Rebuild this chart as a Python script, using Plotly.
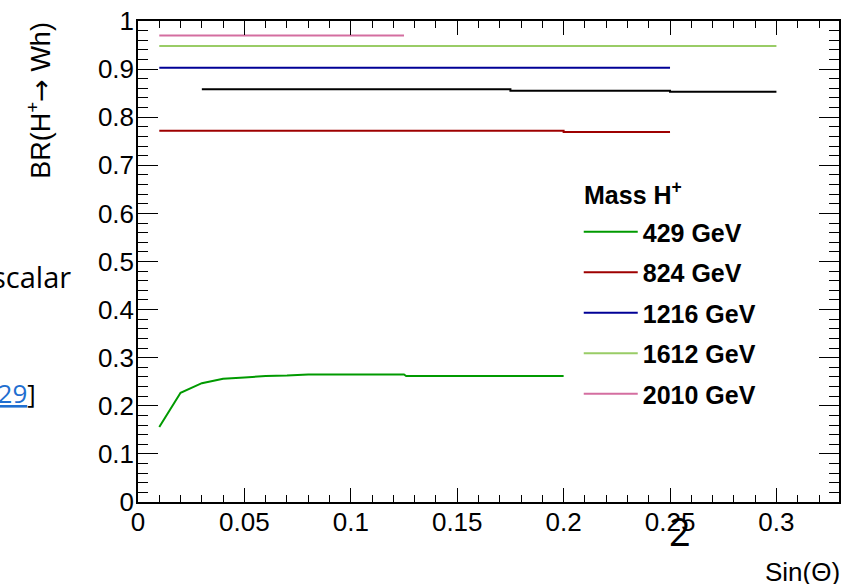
import plotly.graph_objects as go

# BR(H+ -> Wh) versus sin(theta) for several charged Higgs masses
sin_429 = [0.01, 0.02, 0.03, 0.04, 0.05, 0.06, 0.07, 0.08, 0.10, 0.125, 0.126, 0.15, 0.175, 0.20]
br_429 = [0.156, 0.227, 0.247, 0.256, 0.259, 0.262, 0.263, 0.265, 0.265, 0.265, 0.262, 0.262, 0.262, 0.262]

sin_824 = [0.01, 0.05, 0.10, 0.15, 0.20, 0.20, 0.25]
br_824 = [0.772, 0.772, 0.772, 0.772, 0.772, 0.769, 0.769]

sin_1216 = [0.01, 0.05, 0.10, 0.15, 0.20, 0.25]
br_1216 = [0.903, 0.903, 0.903, 0.903, 0.903, 0.903]

sin_1612 = [0.01, 0.05, 0.10, 0.15, 0.20, 0.25, 0.30]
br_1612 = [0.948, 0.948, 0.948, 0.948, 0.948, 0.948, 0.948]

sin_2010 = [0.01, 0.05, 0.10, 0.125]
br_2010 = [0.970, 0.970, 0.970, 0.970]

sin_black = [0.03, 0.10, 0.175, 0.175, 0.25, 0.25, 0.30]
br_black = [0.858, 0.858, 0.858, 0.855, 0.855, 0.853, 0.853]

legend_labels = ["429 GeV", "824 GeV", "1216 GeV", "1612 GeV", "2010 GeV"]
line_colors = ["#009a00", "#9e0000", "#000096", "#99cc66", "#d46ea0"]

y_ticks = [0, 0.1, 0.2, 0.3, 0.4, 0.5, 0.6, 0.7, 0.8, 0.9, 1]
x_ticks = [0, 0.05, 0.1, 0.15, 0.2, 0.25, 0.3]

FONT = "Liberation Sans"

fig = go.Figure()

series = [(sin_429, br_429), (sin_824, br_824), (sin_1216, br_1216),
          (sin_1612, br_1612), (sin_2010, br_2010)]
for i, ((xs, ys), label, color) in enumerate(zip(series, legend_labels, line_colors)):
    fig.add_trace(go.Scatter(
        x=xs, y=ys, mode="lines", name=label,
        line=dict(color=color, width=2),
        legendgroup=f"g{i}", hoverinfo="skip",
    ))

fig.add_trace(go.Scatter(
    x=sin_black, y=br_black, mode="lines", name="",
    line=dict(color="black", width=2), showlegend=False, hoverinfo="skip",
))

axis_common = dict(
    showgrid=False, zeroline=False, showline=True, linecolor="black", linewidth=1.5,
    mirror="allticks", ticks="inside", tickcolor="black", tickwidth=1.2,
    tickfont=dict(family=FONT, size=26, color="black"),
)

fig.update_xaxes(
    range=[0, 0.3294], tickvals=x_ticks, ticktext=[f"{v:g}" for v in x_ticks],
    ticklen=14, ticklabelstandoff=-4,
    minor=dict(dtick=0.01, tick0=0, ticklen=7, ticks="inside",
               tickcolor="black", tickwidth=1.2, showgrid=False),
    **axis_common,
)
fig.update_yaxes(
    range=[0, 1], tickvals=y_ticks, ticktext=[f"{v:g}" for v in y_ticks],
    ticklen=20, ticklabelstandoff=-3,
    minor=dict(dtick=0.02, tick0=0, ticklen=10, ticks="inside",
               tickcolor="black", tickwidth=1.2, showgrid=False),
    **axis_common,
)

fig.update_layout(
    width=841, height=584,
    margin=dict(l=138, r=0, t=21, b=82),
    paper_bgcolor="white", plot_bgcolor="white",
    showlegend=True,
    legend=dict(
        x=(580 - 138) / 703, y=0.609, xanchor="left", yanchor="top",
        bgcolor="rgba(0,0,0,0)", borderwidth=0,
        font=dict(family=FONT, size=25, color="black", weight="bold"),
        tracegroupgap=5, itemwidth=54,
    ),
    annotations=[
        # legend header
        dict(text="<b>Mass H<sup>+</sup></b>", xref="paper", yref="paper",
             x=(583 - 138) / 703, y=(502 - 193) / 481, xanchor="left", yanchor="middle",
             showarrow=False, font=dict(family=FONT, size=25, color="black")),
        dict(text="BR(H<sup>+</sup><span style='font-family:DejaVu Sans'>→</span> Wh)",
             textangle=-90, xref="paper", yref="paper",
             x=(38 - 138) / 703, y=1.0, xanchor="center", yanchor="top", yshift=1,
             showarrow=False, font=dict(family=FONT, size=27, color="black")),
        dict(text="Sin(Θ)", xref="paper", yref="paper", x=1.0, y=0.0,
             xanchor="right", yanchor="middle", xshift=3, yshift=-70, showarrow=False,
             font=dict(family=FONT, size=26, color="black")),
        # surrounding page text
        dict(text="scalar", xref="paper", yref="paper", x=(73 - 138) / 703, y=(502 - 276) / 481,
             xanchor="right", yanchor="middle", showarrow=False,
             font=dict(family="Open Sans", size=29, color="black")),
        dict(text="[<span style='color:#1f6fd0'><u>29</u></span>]", xref="paper", yref="paper",
             x=(38 - 138) / 703, y=(502 - 393) / 481,
             xanchor="right", yanchor="middle", showarrow=False,
             font=dict(family="Open Sans", size=26, color="black")),
        dict(text="2", xref="paper", yref="paper", x=(682 - 138) / 703, y=(502 - 531) / 481,
             xanchor="center", yanchor="middle", showarrow=False,
             font=dict(family="Open Sans", size=38, color="black")),
    ],
)

fig.write_html("out.html")
